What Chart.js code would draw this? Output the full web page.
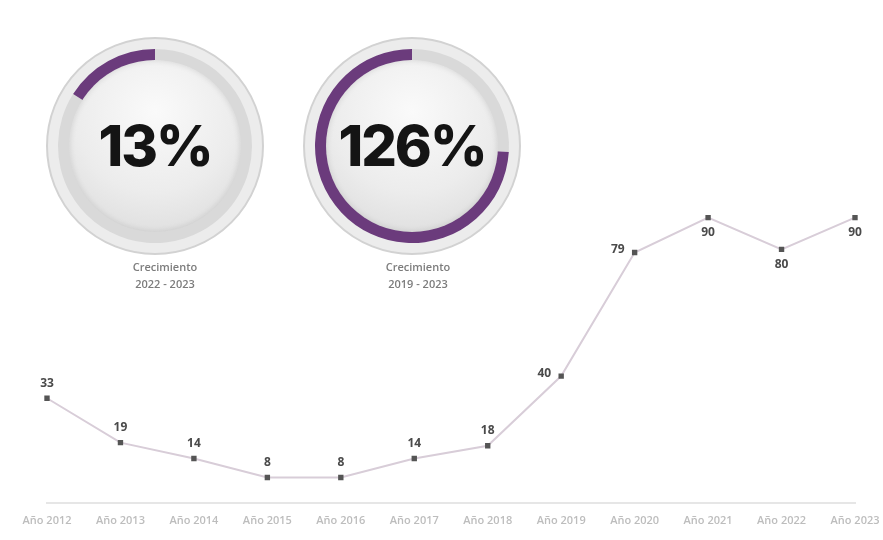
<!DOCTYPE html>
<html>
<head>
<meta charset="utf-8">
<script src="https://cdn.jsdelivr.net/npm/chart.js@4.4.1/dist/chart.umd.min.js"></script>
<style>
html,body{margin:0;padding:0;background:#fff;width:883px;height:540px;overflow:hidden;font-family:Inter,'Open Sans',sans-serif}
#mainWrap{position:absolute;left:0;top:0;width:883px;height:540px}
.gauge{position:absolute;width:220px;height:220px}
.gauge .outer{position:absolute;left:1px;top:1px;width:214px;height:214px;border-radius:50%;border:2px solid #d2d2d2;background:#ececec}
.gauge .disc{position:absolute;left:24px;top:24px;width:172px;height:172px;border-radius:50%;
  background:radial-gradient(circle at 50% 30%, #fafafa 0%, #ececec 55%, #d8d8d8 100%);box-shadow:inset 0 0 6px rgba(0,0,0,0.12)}
.gauge canvas{position:absolute;left:0;top:0}
.gauge .val{position:absolute;left:0;top:0;width:220px;height:220px;display:flex;align-items:center;justify-content:center;
  font-family:Inter,sans-serif;font-weight:800;font-size:56px;letter-spacing:-2px;color:#141414}
.cap{position:absolute;width:160px;text-align:center;font-family:'Open Sans',sans-serif;font-size:11px;line-height:17px;color:#7c7c7c;font-weight:600}
</style>
</head>
<body>
<div id="mainWrap"><canvas id="main" width="883" height="540"></canvas></div>
<div class="gauge" id="g0" style="left:45px;top:36px"><div class="outer"></div><canvas id="gc0" width="220" height="220"></canvas><div class="disc"></div><div class="val" id="gv0"></div></div>
<div class="gauge" id="g1" style="left:302px;top:36px"><div class="outer"></div><canvas id="gc1" width="220" height="220"></canvas><div class="disc"></div><div class="val" id="gv1"></div></div>
<div class="cap" id="cap0" style="left:85px;top:258px"></div>
<div class="cap" id="cap1" style="left:338px;top:258px"></div>
<script>
// ---- data ----
const categories = ['Año 2012','Año 2013','Año 2014','Año 2015','Año 2016','Año 2017','Año 2018','Año 2019','Año 2020','Año 2021','Año 2022','Año 2023'];
const values = [33, 19, 14, 8, 8, 14, 18, 40, 79, 90, 80, 90];
const labelSide = ['top','top','top','top','top','top','top','left','left','bottom','bottom','bottom'];
const gaugeTexts = ['13%', '126%'];
const gaugeCaptionTitle = ['Crecimiento', 'Crecimiento'];
const gaugeCaptionPeriod = ['2022 - 2023', '2019 - 2023'];
const gaugeArcShare = [16, 74]; // purple arc share of ring

// ---- gauges ----
for (let i = 0; i < 2; i++) {
  document.getElementById('gv' + i).textContent = gaugeTexts[i];
  document.getElementById('cap' + i).innerHTML = gaugeCaptionTitle[i] + '<br>' + gaugeCaptionPeriod[i];
  new Chart(document.getElementById('gc' + i), {
    type: 'doughnut',
    data: { labels: ['rest', 'arc'], datasets: [{ data: [100 - gaugeArcShare[i], gaugeArcShare[i]],
      backgroundColor: ['#d9d9d9', '#6b3b7c'], borderWidth: 0 }] },
    options: { responsive: false, animation: false, events: [], cutout: '86%', radius: 97,
      layout: { padding: 0 },
      plugins: { legend: { display: false }, tooltip: { enabled: false } } }
  });
}

// ---- line chart ----
const valueLabels = {
  id: 'valueLabels',
  afterDatasetsDraw(chart) {
    const ctx = chart.ctx;
    const meta = chart.getDatasetMeta(0);
    ctx.save();
    ctx.font = 'bold 12px "Open Sans", sans-serif';
    ctx.fillStyle = '#4a4a4a';
    meta.data.forEach((pt, i) => {
      const side = labelSide[i];
      const txt = String(values[i]);
      if (side === 'top') { ctx.textAlign = 'center'; ctx.textBaseline = 'bottom'; ctx.fillText(txt, pt.x, pt.y - 9); }
      else if (side === 'bottom') { ctx.textAlign = 'center'; ctx.textBaseline = 'top'; ctx.fillText(txt, pt.x, pt.y + 9); }
      else { ctx.textAlign = 'right'; ctx.textBaseline = 'middle'; ctx.fillText(txt, pt.x - 10, pt.y - 3); }
    });
    ctx.restore();
  }
};

new Chart(document.getElementById('main'), {
  type: 'line',
  data: { labels: categories, datasets: [{ data: values,
    borderColor: '#d8cdd8', borderWidth: 2, tension: 0,
    pointStyle: 'rect', pointRadius: 3.8, pointBackgroundColor: '#555', pointBorderColor: '#555', pointBorderWidth: 0 }] },
  options: {
    responsive: false, animation: false, events: [],
    layout: { padding: { left: 47, right: 28, top: 186, bottom: 10 } },
    scales: {
      x: { grid: { display: false }, border: { display: true, color: '#e6e6e6', width: 2, dash: [6, 3] },
        ticks: { color: '#bdbdbd', font: { size: 11, family: '"Open Sans", sans-serif', weight: '600' }, padding: 3, maxRotation: 0, autoSkip: false } },
      y: { display: false, min: 0, max: 100 }
    },
    plugins: { legend: { display: false }, tooltip: { enabled: false } }
  },
  plugins: [valueLabels]
});
</script>
</body>
</html>
